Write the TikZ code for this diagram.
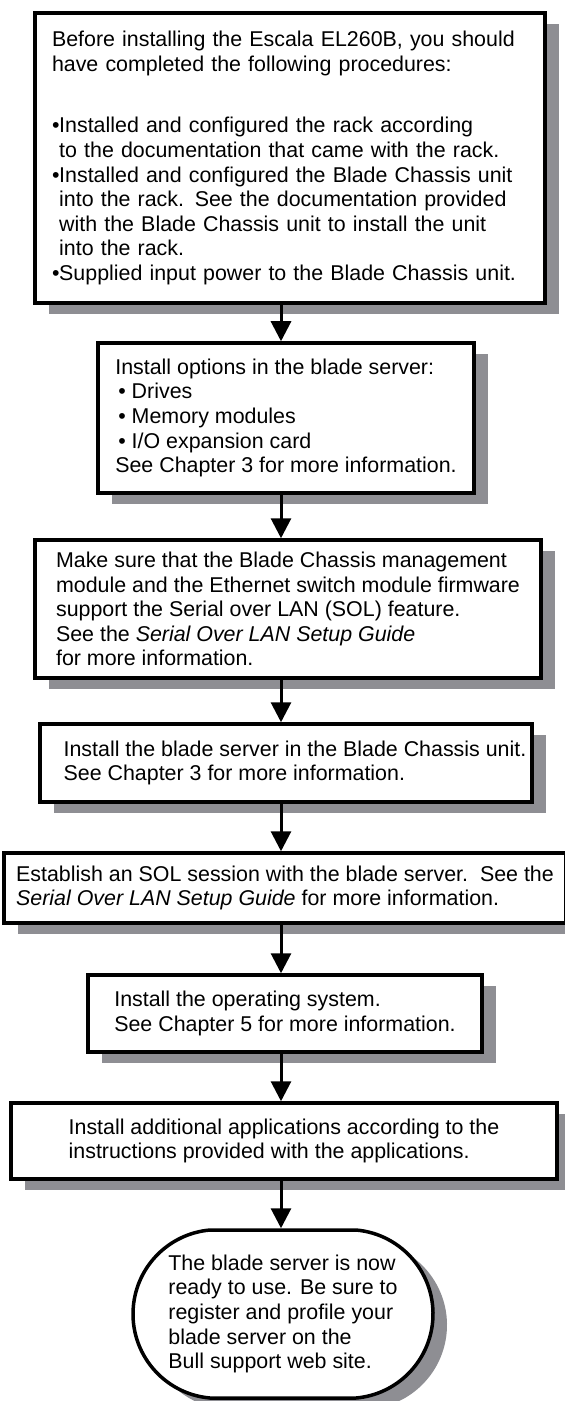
\documentclass[tikz,border=0pt]{standalone}
\usepackage{fontspec}
\setmainfont{Liberation Sans}
\usetikzlibrary{arrows.meta,shadows,shapes.misc}

\definecolor{shadowgray}{RGB}{142,142,147}
\newcommand{\bulletmark}{\makebox[3.6pt][l]{\textbullet}}
\newcommand{\bulletgap}{\hspace*{3.6pt}}

\begin{document}
\begin{tikzpicture}[x=0.5pt,y=-0.5pt,
        textfont/.style={font=\fontsize{10.7pt}{12.3pt}\selectfont},
        stepbox/.style={draw=black, line width=1.75pt, fill=white, align=left, inner sep=0pt, textfont,
            drop shadow={shadow xshift=7pt, shadow yshift=-5.5pt, fill=shadowgray, opacity=1}},
        endbubble/.style={stepbox, rounded rectangle, rounded rectangle arc length=170},
        flowarrow/.style={line width=1.5pt, -{Triangle[length=10pt,width=10pt]}}]
            \useasboundingbox (0,0) rectangle (564,1401);
            \coordinate (axis) at (281,0);

            \node[stepbox, text width=238pt, inner xsep=8.5pt, minimum height=145pt] (prereq) at (290,158) {Before installing the Escala EL260B, you should\\
                have completed the following procedures:\\[18.5pt]
                \bulletmark Installed and configured the rack according\\
                \bulletgap to the documentation that came with the rack.\\
                \bulletmark Installed and configured the Blade Chassis unit\\
                \bulletgap into the rack. See the documentation provided\\
                \bulletgap with the Blade Chassis unit to install the unit\\
                \bulletgap into the rack.\\
                \bulletmark Supplied input power to the Blade Chassis unit.};
            \node[stepbox, minimum width=188pt, minimum height=75pt] (options) at (286,418) {Install options in the blade server:\\
                \hspace*{1.5pt}\textbullet\ Drives\\
                \hspace*{1.5pt}\textbullet\ Memory modules\\
                \hspace*{1.5pt}\textbullet\ I/O expansion card\\
                See Chapter 3 for more information.};
            \node[stepbox, minimum width=253pt, minimum height=69pt] (firmware) at (288,609) {Make sure that the Blade Chassis management\\
                module and the Ethernet switch module firmware\\
                support the Serial over LAN (SOL) feature.\\
                See the \textit{Serial Over LAN Setup Guide}\\
                for more information.};
            \node[stepbox, minimum width=246pt, minimum height=39pt] (install) at (286,763) {\hspace*{9pt}Install the blade server in the Blade Chassis unit.\\
                \hspace*{9pt}See Chapter 3 for more information.};
            \node[stepbox, minimum width=281pt, minimum height=35pt] (session) at (285,888) {Establish an SOL session with the blade server.\ \ See the\\
                \textit{Serial Over LAN Setup Guide} for more information.};
            \node[stepbox, minimum width=197pt, minimum height=38.5pt] (opsys) at (285,1013.5) {Install the operating system.\\
                See Chapter 5 for more information.};
            \node[stepbox, minimum width=273pt, minimum height=38pt] (apps) at (284,1141) {Install additional applications according to the\\
                instructions provided with the applications.};
            \node[endbubble, minimum width=150pt, minimum height=84pt] (ready) at (283,1314) {};
            \node[align=left, textfont] (readytext) at (ready.center) {The blade server is now\\
                ready to use. Be sure to\\
                register and profile your\\
                blade server on the\\
                Bull support web site.};

            \draw[flowarrow] (prereq.south -| axis) -- (options.north -| axis);
            \draw[flowarrow] (options.south -| axis) -- (firmware.north -| axis);
            \draw[flowarrow] (firmware.south -| axis) -- (install.north -| axis);
            \draw[flowarrow] (install.south -| axis) -- (session.north -| axis);
            \draw[flowarrow] (session.south -| axis) -- (opsys.north -| axis);
            \draw[flowarrow] (opsys.south -| axis) -- (apps.north -| axis);
            \draw[flowarrow] (apps.south -| axis) -- (ready.north -| axis);

        \end{tikzpicture}
\end{document}
